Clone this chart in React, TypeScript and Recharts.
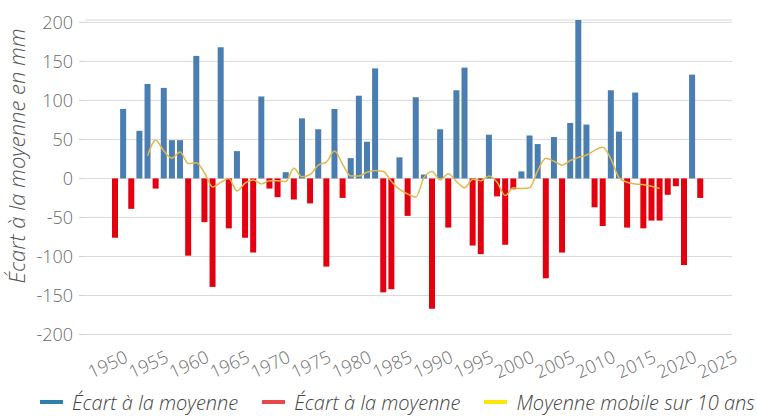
import {
    ComposedChart,
    Bar,
    Line,
    XAxis,
    YAxis,
    CartesianGrid,
    Legend
} from "recharts"

// années 1950 → 2022
const years: number[] = Array.from({ length: 73 }, (_, i) => 1950 + i)

// écart à la moyenne (mm)
const deviation: number[] = [
    -76, 89, -39, 61, 121, -13, 116, 49, 49, -99,
    157, -56, -139, 168, -64, 35, -76, -95, 105, -13,
    -24, 8, -27, 77, -32, 63, -113, 89, -25, 26,
    106, 47, 141, -146, -142, 27, -48, 104, 5, -167,
    63, -63, 113, 142, -86, -97, 56, -23, -85, -14,
    9, 55, 44, -128, 53, -95, 71, 203, 69, -37,
    -61, 113, 60, -63, 110, -64, -54, -54, -21, -10,
    -111, 133, -25
]

// moyenne mobile sur 10 ans, de 1954 à 2017
const movingAvgStart = 1954
const movingAvg: number[] = [
    29, 49, 35, 26, 34, 19, 20, 7, -11, -5,
    0, -16, -6, -2, -7, -3, -3, -4, 13, 2,
    5, 17, 21, 35, 18, 3, 3, 8, 10, 9,
    -4, -14, -20, -24, 1, 9, -2, 6, -4, -12,
    -1, -3, 3, -5, -22, -12, -13, -12, 10, 26,
    22, 17, 23, 27, 30, 36, 40, 25, 1, -5,
    -7, -8, -10, -13
]

const yTicks = [-200, -150, -100, -50, 0, 50, 100, 150, 200]
const xTicks = [1950, 1955, 1960, 1965, 1970, 1975, 1980, 1985, 1990, 1995, 2000, 2005, 2010, 2015, 2020, 2025]

const legendItems = [
    { label: "Écart à la moyenne", color: "#2f7fab" },
    { label: "Écart à la moyenne", color: "#e9474d" },
    { label: "Moyenne mobile sur 10 ans", color: "#ffe600" }
]

const FONT = "'Open Sans', sans-serif"

const data = years.map((year, i) => {
    const v = deviation[i]
    const m = movingAvg[year - movingAvgStart]
    return {
        year,
        pos: v >= 0 ? v : 0,
        neg: v < 0 ? v : 0,
        ma: m === undefined ? null : m
    }
})

function YearTick({ x, y, payload }: any) {
    return (
        <g transform={`translate(${x + 14},${y + 19}) rotate(-25)`}>
            <text
                textAnchor="end"
                fill="#6b6b6b"
                fontSize={18}
                fontFamily={FONT}
                fontWeight={300}
            >
                {payload.value}
            </text>
        </g>
    )
}

function YTitle() {
    return (
        <text
            x={25}
            y={156}
            transform="rotate(-90 25 156)"
            textAnchor="middle"
            fill="#555"
            fontSize={22}
            fontStyle="italic"
            fontWeight={300}
            fontFamily={FONT}
        >
            Écart à la moyenne en mm
        </text>
    )
}

function LegendRow() {
    return (
        <div
            style={{
                display: "flex",
                alignItems: "center",
                paddingLeft: 40,
                height: 28,
                fontFamily: FONT,
                fontStyle: "italic",
                fontWeight: 300,
                fontSize: 20,
                color: "#444",
                whiteSpace: "nowrap"
            }}
        >
            {legendItems.map((it, i) => (
                <div
                    key={i}
                    style={{ display: "flex", alignItems: "center", marginRight: 24 }}
                >
                    <span
                        style={{
                            display: "inline-block",
                            width: 23,
                            height: 4,
                            background: it.color,
                            marginRight: 9
                        }}
                    />
                    <span>{it.label}</span>
                </div>
            ))}
        </div>
    )
}

export default function App() {
    return (
        <div style={{ position: "absolute", left: 0, top: 0, width: 757, height: 416, background: "#fff" }}>
            <ComposedChart
                width={757}
                height={416}
                data={data}
                margin={{ top: 20, right: 25, bottom: 0, left: 0 }}
            >
                <CartesianGrid vertical={false} stroke="#d9d9d9" />
                <XAxis
                    dataKey="year"
                    type="number"
                    domain={[1946.3, 2025.9]}
                    ticks={xTicks}
                    interval={0}
                    axisLine={false}
                    tickLine={false}
                    height={53.5}
                    tick={<YearTick />}
                />
                <YAxis
                    width={85}
                    domain={[-200, 200]}
                    ticks={yTicks}
                    interval={0}
                    axisLine={false}
                    tickLine={{ stroke: "#d0d0d0" }}
                    tickSize={6}
                    tickMargin={6}
                    tick={{ fill: "#6b6b6b", fontSize: 18, fontFamily: FONT, fontWeight: 300 }}
                    label={<YTitle />}
                />
                <Legend
                    verticalAlign="bottom"
                    align="left"
                    height={28}
                    wrapperStyle={{ left: 0, width: 757 }}
                    content={<LegendRow />}
                />
                <Bar
                    dataKey="pos"
                    stackId="dev"
                    fill="#4a7db0"
                    barSize={6}
                    isAnimationActive={false}
                />
                <Bar
                    dataKey="neg"
                    stackId="dev"
                    fill="#e3000f"
                    barSize={6}
                    isAnimationActive={false}
                />
                <Line
                    dataKey="ma"
                    type="monotone"
                    stroke="#e2b84a"
                    strokeWidth={1.5}
                    dot={false}
                    connectNulls={false}
                    isAnimationActive={false}
                />
            </ComposedChart>
        </div>
    )
}
